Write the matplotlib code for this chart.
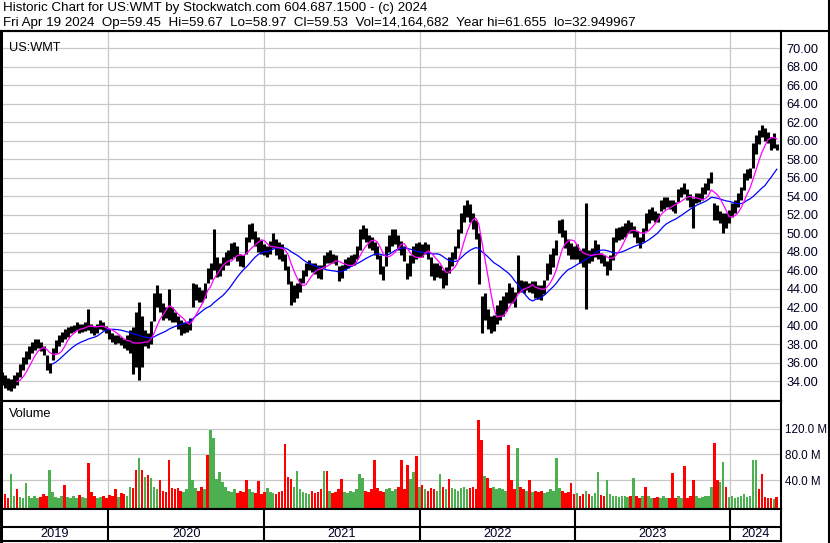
from __future__ import annotations

import matplotlib as mpl

mpl.use("Agg")
import matplotlib.pyplot as plt
import numpy as np
import pandas as pd
from matplotlib.lines import Line2D


TITLE_LINE = "Historic Chart for US:WMT by Stockwatch.com 604.687.1500 - (c) 2024"
QUOTE_LINE = ("Fri Apr 19 2024  Op=59.45  Hi=59.67  Lo=58.97  Cl=59.53  "
              "Vol=14,164,682  Year hi=61.655  lo=32.949967")
SYMBOL = "US:WMT"

# weekly bars (week ending Friday)
week_end = pd.date_range("2019-04-26", "2024-04-19", freq="W-FRI")

price_hi = [
    35.0, 34.6, 34.3, 34.2, 34.6, 35.0, 35.8, 36.6, 37.2, 37.8,
    38.2, 38.5, 38.6, 38.2, 37.8, 36.8, 36.0, 37.6, 38.4, 39.0,
    39.3, 39.6, 39.8, 40.0, 40.1, 40.4, 40.2, 40.2, 40.4, 41.8,
    40.2, 40.0, 40.2, 40.6, 40.4, 40.0, 39.6, 39.2, 39.0, 39.0,
    38.8, 38.6, 39.0, 39.5, 39.8, 41.5, 42.5, 41.0, 39.5, 39.2,
    40.5, 43.5, 44.4, 43.5, 42.4, 42.0, 44.0, 42.0, 41.5, 41.0,
    40.6, 40.4, 40.4, 40.8, 44.6, 44.5, 44.2, 43.8, 44.6, 46.2,
    46.8, 50.4, 47.4, 46.8, 47.4, 48.0, 48.2, 48.9, 49.0, 48.6,
    47.8, 47.6, 49.6, 51.0, 51.1, 50.2, 49.6, 49.3, 48.8, 48.6,
    49.2, 50.0, 49.4, 49.0, 48.8, 47.8, 46.5, 44.8, 44.4, 44.6,
    45.2, 46.0, 46.8, 47.1, 46.8, 46.8, 46.6, 46.6, 47.6, 48.0,
    48.2, 47.8, 47.6, 46.4, 46.6, 47.2, 47.4, 47.6, 47.8, 48.6,
    50.4, 50.9, 50.6, 49.8, 49.6, 49.0, 48.6, 47.6, 46.4, 48.6,
    49.8, 50.4, 50.4, 49.8, 49.2, 48.6, 46.8, 47.6, 48.6, 48.9,
    49.0, 48.8, 49.0, 48.8, 47.4, 46.8, 46.8, 46.6, 46.0, 46.3,
    47.4, 48.0, 48.6, 50.4, 52.2, 53.0, 53.6, 53.2, 52.2, 51.4,
    50.0, 43.2, 43.5, 41.8, 41.0, 41.2, 42.2, 42.8, 43.2, 43.6,
    44.6, 44.2, 43.6, 47.6, 44.9, 44.8, 44.8, 44.6, 44.8, 44.8,
    44.4, 44.4, 44.9, 46.8, 47.8, 48.4, 49.3, 51.4, 51.5, 50.3,
    49.4, 48.9, 48.6, 48.8, 48.2, 48.4, 53.3, 48.2, 48.4, 49.3,
    48.8, 47.9, 47.6, 47.0, 47.6, 49.6, 50.6, 50.7, 50.8, 51.1,
    51.4, 51.2, 50.8, 50.2, 49.6, 50.6, 52.2, 52.6, 52.8, 52.4,
    52.2, 53.6, 53.9, 53.9, 53.6, 53.6, 53.4, 54.8, 55.0, 55.4,
    54.8, 54.2, 53.8, 54.3, 54.3, 55.0, 55.4, 56.0, 56.6, 53.3,
    53.0, 52.4, 52.2, 52.2, 52.5, 53.3, 53.6, 54.3, 55.0, 56.5,
    57.0, 57.1, 59.8, 60.6, 61.2, 61.7, 61.4, 61.0, 60.4, 60.8,
    59.67,
]

price_lo = [
    33.6, 33.2, 33.0, 32.95, 33.3, 33.6, 34.4, 35.2, 35.8, 36.4,
    37.0, 37.4, 37.6, 37.2, 36.8, 35.2, 34.9, 36.3, 37.0, 37.8,
    38.2, 38.6, 38.8, 39.2, 39.3, 39.5, 39.2, 39.3, 39.4, 39.5,
    39.2, 39.0, 39.2, 39.6, 39.5, 39.2, 38.6, 38.2, 38.0, 38.1,
    37.9, 37.6, 37.4, 37.0, 34.8, 35.5, 34.1, 35.5, 37.8, 37.6,
    38.0, 40.5, 42.0, 41.5, 40.6, 40.8, 40.6, 40.4, 40.4, 39.6,
    39.0, 39.2, 39.3, 39.5, 42.0, 42.8, 42.6, 42.5, 43.0, 44.6,
    45.0, 46.0, 45.3, 45.4, 46.0, 46.6, 46.6, 47.2, 47.4, 47.0,
    46.4, 46.3, 47.8, 49.0, 49.4, 48.6, 48.0, 47.8, 47.6, 47.4,
    47.8, 48.4, 47.6, 47.2, 47.0, 46.0, 44.5, 42.2, 42.6, 43.0,
    43.6, 44.6, 45.4, 46.0, 45.8, 45.6, 45.2, 45.0, 46.2, 46.8,
    46.8, 46.8, 46.6, 44.8, 45.2, 46.0, 46.2, 46.4, 46.6, 47.2,
    48.2, 49.4, 49.0, 48.4, 48.2, 47.6, 47.2, 45.6, 44.9, 46.4,
    48.0, 48.6, 48.8, 48.2, 47.6, 47.0, 45.0, 45.4, 46.8, 47.2,
    47.4, 47.4, 47.8, 47.2, 45.4, 44.9, 45.3, 45.2, 44.1, 44.4,
    45.7, 46.4, 47.2, 48.4, 50.0, 51.2, 51.7, 51.2, 50.4, 49.4,
    44.5, 39.2, 40.6, 39.6, 39.2, 39.4, 40.2, 40.6, 41.0, 41.6,
    42.4, 42.4, 42.0, 43.5, 43.6, 43.5, 43.8, 43.6, 43.5, 43.0,
    42.9, 42.8, 43.4, 44.9, 45.6, 46.3, 47.6, 50.0, 49.6, 48.4,
    47.6, 47.2, 47.2, 47.2, 46.8, 46.3, 41.8, 46.8, 47.0, 47.4,
    47.2, 46.8, 46.4, 45.5, 46.0, 47.1, 49.0, 49.3, 49.4, 49.6,
    50.0, 50.0, 49.6, 48.9, 48.4, 49.0, 50.2, 51.1, 51.4, 51.2,
    51.2, 52.4, 52.6, 52.8, 52.6, 52.4, 52.2, 53.4, 53.9, 54.2,
    53.6, 52.8, 50.6, 53.3, 53.4, 53.6, 54.2, 54.7, 55.4, 51.4,
    51.4, 51.1, 50.0, 50.6, 51.1, 51.7, 52.2, 52.8, 53.6, 54.7,
    55.8, 56.0, 57.1, 58.6, 59.6, 60.4, 60.0, 59.8, 59.0, 59.2,
    58.97,
]

# daily volume peak seen in each week, millions of shares
volume_m = [
    14, 18, 12, 49, 16, 27, 14, 12, 36, 15,
    13, 16, 12, 14, 18, 15, 56, 22, 14, 13,
    16, 32, 14, 12, 15, 13, 17, 14, 12, 67,
    22, 15, 12, 14, 16, 13, 17, 15, 27, 14,
    20, 18, 16, 30, 28, 56, 75, 56, 45, 48,
    44, 30, 26, 41, 24, 22, 72, 28, 26, 28,
    24, 22, 26, 92, 40, 28, 24, 30, 26, 79,
    118, 106, 42, 53, 37, 30, 24, 22, 26, 20,
    24, 22, 40, 26, 22, 20, 38, 18, 22, 28,
    22, 20, 18, 22, 24, 96, 45, 42, 30, 55,
    26, 22, 20, 18, 24, 20, 22, 26, 55, 54,
    24, 20, 22, 26, 42, 22, 20, 24, 22, 26,
    49, 44, 24, 22, 26, 71, 28, 24, 22, 26,
    28, 24, 26, 30, 71, 26, 63, 42, 53, 77,
    30, 32, 26, 24, 28, 26, 24, 50, 30, 26,
    42, 28, 26, 24, 28, 30, 26, 28, 30, 26,
    133, 103, 46, 44, 28, 30, 26, 28, 26, 24,
    94, 40, 26, 90, 30, 26, 24, 40, 22, 24,
    22, 24, 20, 22, 26, 24, 75, 28, 24, 20,
    22, 36, 18, 20, 16, 18, 24, 18, 16, 20,
    52, 17, 15, 40, 18, 16, 15, 14, 15, 16,
    14, 15, 44, 15, 13, 16, 30, 15, 13, 12,
    14, 12, 15, 13, 12, 51, 13, 15, 12, 62,
    13, 15, 40, 15, 12, 14, 15, 16, 30, 98,
    40, 37, 68, 30, 14, 16, 12, 14, 16, 18,
    14, 16, 71, 72, 27, 49, 14, 12, 13, 11,
    14,
]

# colours of the tall volume bars as seen on the chart (r = down, g = up)
volume_color_read = {
    3: "g", 5: "r", 8: "g", 16: "g", 21: "r", 29: "r", 38: "r",
    45: "r", 46: "g", 47: "r", 48: "g", 49: "r", 50: "g", 53: "r",
    56: "r", 63: "g", 64: "g", 69: "r", 70: "g", 71: "g", 72: "g",
    73: "g", 82: "r", 86: "r", 89: "g", 95: "r", 96: "r", 99: "g",
    108: "g", 109: "r", 114: "r", 121: "g", 125: "r", 134: "r",
    136: "r", 137: "g", 138: "g", 139: "r", 147: "g", 150: "r",
    158: "r", 160: "r", 161: "r", 162: "g", 163: "r", 170: "r",
    171: "r", 173: "g", 177: "r", 186: "g", 191: "r", 200: "g",
    203: "g", 212: "g", 216: "r", 225: "r", 229: "r", 232: "r",
    239: "r", 240: "r", 241: "g", 242: "g", 243: "r", 252: "g",
    253: "g", 254: "r", 255: "r",
}

year_labels = ["2019", "2020", "2021", "2022", "2023", "2024"]
year_starts = ["2020-01-01", "2021-01-01", "2022-01-01", "2023-01-01", "2024-01-01"]
price_ticks = list(range(34, 72, 2))
volume_ticks = [40, 80, 120]

MA_FAST_WEEKS = 6
MA_SLOW_WEEKS = 18

FIG_W, FIG_H = 830, 543
PX_PER_DAY = 2.98 / 7.0
FONT = ["Liberation Sans", "Arial", "DejaVu Sans"]
FS_TITLE = 9.6
FS = 9.2
FS_VOL = 8.4
TEXT_COLOR = "#000022"
GRID_COLOR = "#c8c8c8"
RED = "#ff0000"
GREEN = "#4cb050"


def fx(px: float) -> float:
    return px / FIG_W


def fy(py: float) -> float:
    return 1.0 - py / FIG_H


def add_axes_px(fig: plt.Figure, left: float, top: float, right: float, bottom: float) -> plt.Axes:
    return fig.add_axes([fx(left), fy(bottom), fx(right) - fx(left), fy(top) - fy(bottom)])


def style_frame(ax: plt.Axes) -> None:
    for side in ("top", "bottom", "right"):
        ax.spines[side].set_color("black")
        ax.spines[side].set_linewidth(1.5)
    ax.spines["left"].set_color("black")
    ax.spines["left"].set_linewidth(2.2)
    ax.tick_params(axis="both", length=0)
    ax.set_facecolor("white")


def main() -> None:
    mpl.rcParams.update({"font.family": FONT, "font.size": FS})

    hi = np.array(price_hi)
    lo = np.array(price_lo)
    mid = pd.Series((hi + lo) / 2.0, index=week_end)
    ma_fast = mid.rolling(MA_FAST_WEEKS).mean()
    ma_slow = mid.rolling(MA_SLOW_WEEKS).mean()

    x_left = week_end[0] - pd.Timedelta(days=1.0 / PX_PER_DAY)
    x_right = week_end[0] + pd.Timedelta(days=779.0 / PX_PER_DAY)
    boundaries = pd.to_datetime(year_starts)

    fig = plt.figure(figsize=(FIG_W / 100, FIG_H / 100), dpi=100)
    fig.patch.set_facecolor("white")

    fig.text(fx(3), fy(8), TITLE_LINE, va="center", ha="left", fontsize=FS_TITLE, color="black")
    fig.text(fx(3), fy(23), QUOTE_LINE, va="center", ha="left", fontsize=FS_TITLE, color="black")

    # price panel
    ax_p = add_axes_px(fig, 1, 31, 781, 401)
    style_frame(ax_p)
    ax_p.set_xlim(x_left, x_right)
    ax_p.set_ylim(31.84, 71.88)
    ax_p.set_yticks(price_ticks)
    ax_p.set_yticklabels([f"{t:.2f}" for t in price_ticks], color=TEXT_COLOR)
    ax_p.yaxis.tick_right()
    ax_p.tick_params(axis="y", pad=4)
    ax_p.set_xticks(boundaries)
    ax_p.set_xticklabels([])
    ax_p.grid(True, color=GRID_COLOR, linewidth=0.9)
    ax_p.set_axisbelow(True)
    ax_p.vlines(week_end, lo, hi, color="black", linewidth=2.2)
    ax_p.plot(week_end, ma_slow, color="#0000ff", linewidth=0.9)
    ax_p.plot(week_end, ma_fast, color="#ff00ff", linewidth=0.9)
    ax_p.text(0.010, 0.97, SYMBOL, transform=ax_p.transAxes, va="top", ha="left",
              fontsize=FS, color="black")

    # volume panel
    vol_bottom = -4.65
    ax_v = add_axes_px(fig, 1, 401, 781, 509)
    style_frame(ax_v)
    ax_v.set_xlim(x_left, x_right)
    ax_v.set_ylim(vol_bottom, 162.8)
    ax_v.set_yticks(volume_ticks)
    ax_v.set_yticklabels([f"{t:.1f} M" for t in volume_ticks], color=TEXT_COLOR, fontsize=FS_VOL)
    ax_v.yaxis.tick_right()
    ax_v.tick_params(axis="y", pad=3)
    ax_v.set_xticks(boundaries)
    ax_v.set_xticklabels([])
    ax_v.grid(True, color=GRID_COLOR, linewidth=0.9)
    ax_v.set_axisbelow(True)

    up = np.r_[True, mid.values[1:] >= mid.values[:-1]]
    colors = [GREEN if u else RED for u in up]
    for idx, c in volume_color_read.items():
        colors[idx] = GREEN if c == "g" else RED
    vol = np.array(volume_m, dtype=float)
    ax_v.bar(week_end, vol - vol_bottom, bottom=vol_bottom, width=6.2,
             color=colors, linewidth=0, align="center")
    ax_v.text(0.010, 0.88, "Volume", transform=ax_v.transAxes, va="center", ha="left",
              fontsize=FS, color="black")

    # date strip under the volume panel
    ax_d = add_axes_px(fig, 1, 509, 781, 541)
    style_frame(ax_d)
    ax_d.set_xlim(x_left, x_right)
    ax_d.set_ylim(0, 1)
    ax_d.set_xticks([])
    ax_d.set_yticks([])
    ax_d.axhline(14.5 / 32, color="black", linewidth=1.5)
    ax_d.vlines(boundaries, 0, 1, color="black", linewidth=1.5)
    edges = [x_left] + list(boundaries) + [x_right]
    for label, a, b in zip(year_labels, edges[:-1], edges[1:]):
        ax_d.text(a + (b - a) / 2, 7 / 32, label, ha="center", va="center",
                  fontsize=FS, color=TEXT_COLOR)

    # outer frame
    fig.add_artist(Line2D([0, fx(829)], [fy(30.5), fy(30.5)], color="black", linewidth=1.5))
    fig.add_artist(Line2D([fx(828.5), fx(828.5)], [fy(0), fy(543)], color="black", linewidth=1.5))

    fig.savefig("out.png", dpi=100, facecolor="white")
    plt.close(fig)


if __name__ == "__main__":
    main()
